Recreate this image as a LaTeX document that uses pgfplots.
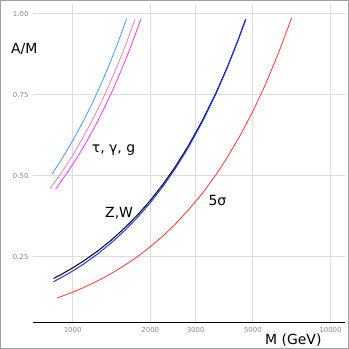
\documentclass[border=0pt]{standalone}
\usepackage{pgfplots}
\pgfplotsset{compat=1.18}
\usepackage{fontspec}
\setmainfont{DejaVu Sans}
\definecolor{ltblue}{HTML}{4499FF}
\definecolor{pinkish}{HTML}{D98AAE}
\definecolor{magent}{HTML}{FF33FF}
\definecolor{blu}{HTML}{2233FF}
\definecolor{rd}{HTML}{FF3333}
\definecolor{gridc}{HTML}{DDDDDD}
\definecolor{tickc}{HTML}{888888}
\begin{document}
\begin{tikzpicture}
\useasboundingbox (0,0) rectangle (349bp,349bp);
\draw[color=tickc!80,line width=1.2bp] (0.6bp,0.6bp) rectangle (348.4bp,348.4bp);
\begin{axis}[
  at={(33bp,26.3bp)}, anchor=south west,
  scale only axis, width=312bp, height=318.7bp,
  xmode=log, xmin=702, xmax=11380, ymin=0.047, ymax=1.03,
  axis lines=left, axis line style={-}, separate axis lines,
  y axis line style={draw=none},
  x axis line style={black, line width=0.9bp},
  xtick={1000,2000,3000,5000,10000},
  xticklabels={1000,2000,3000,5000,10000},
  ytick={0.25,0.5,0.75,1.0},
  yticklabels={0.25,0.50,0.75,1.00},
  major tick length=0pt,
  grid=major, major grid style={gridc, line width=0.9bp},
  tick label style={font=\fontsize{7}{8}\selectfont, text=tickc},
  /pgf/number format/assume math mode=true,
  xticklabel style={yshift=-1bp},
  yticklabel style={xshift=-1bp},
  clip=false,
  every axis plot/.append style={line join=round},
]
\addplot[ltblue, line width=0.8bp] coordinates {(831,0.505) (900,0.547) (1000,0.608) (1100,0.669) (1200,0.729) (1300,0.790) (1400,0.851) (1500,0.912) (1620,0.985)};
\addplot[pinkish, line width=0.8bp] coordinates {(817,0.460) (900,0.507) (1000,0.563) (1100,0.620) (1200,0.676) (1300,0.732) (1400,0.789) (1500,0.845) (1600,0.901) (1745,0.983)};
\addplot[magent, line width=0.8bp] coordinates {(859,0.459) (950,0.508) (1050,0.561) (1150,0.615) (1250,0.668) (1350,0.722) (1450,0.775) (1550,0.829) (1650,0.882) (1750,0.936) (1841,0.984)};
\addplot[black, line width=1bp] coordinates {(844,0.1836) (900,0.1952) (1000,0.216) (1100,0.2368) (1250,0.268) (1400,0.2992) (1600,0.3408) (1800,0.3824) (2000,0.424) (2250,0.476) (2500,0.528) (2800,0.5904) (3200,0.6736) (3600,0.7568) (4000,0.84) (4350,0.9128) (4688,0.983)};
\addplot[blu, line width=1bp] coordinates {(844,0.1736) (900,0.1854) (1000,0.2064) (1100,0.2275) (1250,0.2591) (1400,0.2907) (1600,0.3328) (1800,0.3749) (2000,0.4170) (2250,0.4697) (2500,0.5223) (2800,0.5855) (3200,0.6697) (3600,0.7540) (4000,0.8382) (4350,0.9119) (4688,0.981)};
\addplot[rd, line width=0.8bp] coordinates {(869,0.123) (1000,0.141) (1100,0.155) (1250,0.176) (1400,0.197) (1600,0.225) (1800,0.253) (2000,0.281) (2250,0.316) (2500,0.351) (2800,0.393) (3200,0.448) (3600,0.504) (4000,0.560) (4500,0.630) (5000,0.699) (5600,0.783) (6300,0.881) (7071,0.988)};
\end{axis}
\node[anchor=base west, inner sep=0pt, font=\fontsize{14}{16}\selectfont] at (11bp,295.7bp) {A/M};
\node[anchor=base west, inner sep=0pt, font=\fontsize{14}{16}\selectfont] at (91.7bp,196.7bp) {τ, γ, g};
\node[anchor=base west, inner sep=0pt, font=\fontsize{14}{16}\selectfont] at (105bp,131.3bp) {Z,W};
\node[anchor=base west, inner sep=0pt, font=\fontsize{14}{16}\selectfont] at (208.3bp,143.3bp) {5σ};
\node[anchor=base west, inner sep=0pt, font=\fontsize{14}{16}\selectfont] at (265bp,5bp) {M (GeV)};
\end{tikzpicture}
\end{document}
